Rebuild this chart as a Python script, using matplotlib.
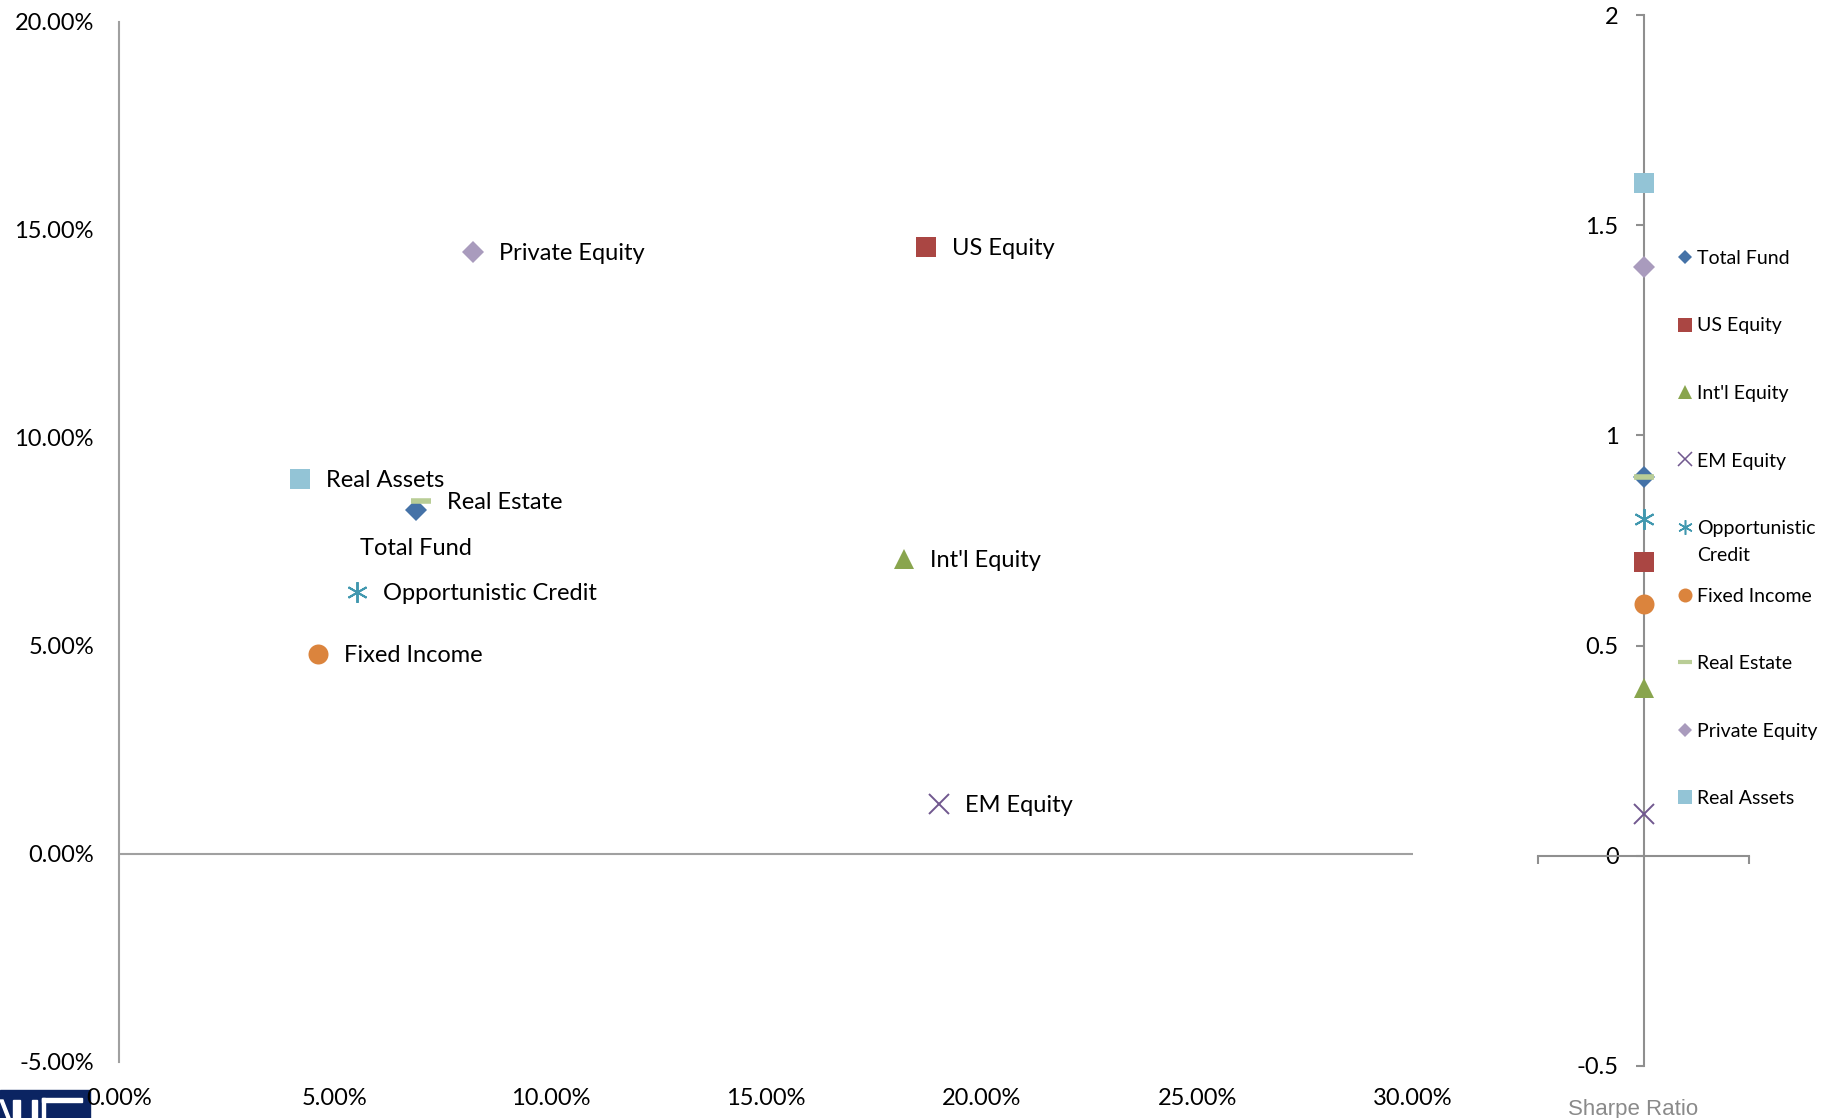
import matplotlib
matplotlib.use('Agg')
import matplotlib.pyplot as plt
from matplotlib.lines import Line2D
from matplotlib.patches import Rectangle, Polygon

plt.rcParams['font.family'] = ['Lato', 'DejaVu Sans']

W, H = 1822, 1118

# asset classes: annualised std dev (x), return (y), sharpe ratio
names = ['Total Fund', 'US Equity', "Int'l Equity", 'EM Equity', 'Opportunistic Credit',
         'Fixed Income', 'Real Estate', 'Private Equity', 'Real Assets']
legend_names = ['Total Fund', 'US Equity', "Int'l Equity", 'EM Equity', 'Opportunistic\nCredit',
                'Fixed Income', 'Real Estate', 'Private Equity', 'Real Assets']
risk = [6.89, 18.72, 18.21, 19.01, 5.52, 4.61, 7.00, 8.21, 4.20]
ret = [8.28, 14.59, 7.08, 1.20, 6.30, 4.80, 8.48, 14.48, 9.01]
sharpe = [0.9, 0.7, 0.4, 0.1, 0.8, 0.6, 0.9, 1.4, 1.6]

x_ticks = [0, 5, 10, 15, 20, 25, 30]
y_ticks = [-5, 0, 5, 10, 15, 20]
sr_ticks = [-0.5, 0, 0.5, 1, 1.5, 2]
sr_labels = ['-0.5', '0', '0.5', '1', '1.5', '2']

colors = ['#4572A7', '#AA4643', '#89A54E', '#71588F', '#4198AF',
          '#DB843D', '#B9CD96', '#A99BBD', '#93C4D6']
markers = ['D', 's', '^', 'x', (6, 2, 0), 'o', '_', 'D', 's']
sizes = [10.7, 14.5, 15, 14, 15, 14.4, 15, 10.7, 14.5]
mews = [0, 0, 0, 1.4, 1.4, 0, 4, 0, 0]

GRAY = '#a0a0a0'
GRAY2 = '#8f8f8f'
FS = 17


def fx(px):
    return px / W


def fy(py):
    return 1 - py / H


fig = plt.figure(figsize=(W / 100, H / 100), dpi=100)

# risk / return scatter
ax = fig.add_axes([fx(119), fy(1062), fx(1413) - fx(119), fy(22) - fy(1062)])
ax.set_facecolor('none')
ax.set_xlim(0, 30)
ax.set_ylim(-5, 20)
for s in ['top', 'right', 'bottom']:
    ax.spines[s].set_visible(False)
ax.spines['left'].set_color(GRAY)
ax.spines['left'].set_linewidth(1.5)
ax.axhline(0, color=GRAY, lw=1.5, zorder=1)
ax.set_xticks(x_ticks)
ax.set_xticklabels(['%.2f%%' % v for v in x_ticks])
ax.set_yticks(y_ticks)
ax.set_yticklabels(['%.2f%%' % v for v in y_ticks])
ax.tick_params(axis='x', length=0, pad=18.5, labelsize=FS)
ax.tick_params(axis='y', length=0, pad=18, labelsize=FS)

for i, name in enumerate(names):
    ax.plot(risk[i], ret[i], linestyle='none', marker=markers[i], ms=sizes[i],
            color=colors[i], mec=colors[i], mew=mews[i], zorder=3 + i)
    if name == 'Total Fund':
        ax.annotate(name, (risk[i], ret[i]), xytext=(0, -39), textcoords='offset pixels',
                    ha='center', va='center', fontsize=FS)
    else:
        ax.annotate(name, (risk[i], ret[i]), xytext=(26, -1.5), textcoords='offset pixels',
                    ha='left', va='center', fontsize=FS)

# sharpe ratio strip
ax2 = fig.add_axes([fx(1538), fy(1066), fx(1749) - fx(1538), fy(15) - fy(1066)])
ax2.set_facecolor('none')
ax2.set_xlim(0, 2)
ax2.set_ylim(-0.5, 2)
ax2.spines['top'].set_visible(False)
ax2.spines['right'].set_visible(False)
ax2.spines['left'].set_position(('data', 1))
ax2.spines['bottom'].set_position(('data', 0))
for s in ['left', 'bottom']:
    ax2.spines[s].set_color(GRAY2)
    ax2.spines[s].set_linewidth(1.5)
ax2.set_yticks(sr_ticks)
ax2.set_yticklabels(sr_labels)
ax2.set_xticks([0, 2])
ax2.set_xticklabels(['', ''])
ax2.tick_params(axis='y', length=6, width=1.5, color=GRAY2, pad=12, labelsize=FS)
ax2.tick_params(axis='x', length=6, width=1.5, color=GRAY2)

for i in range(len(names)):
    ax2.plot(1, sharpe[i], linestyle='none', marker=markers[i], ms=sizes[i],
             color=colors[i], mec=colors[i], mew=mews[i], zorder=3 + i, clip_on=False)

fig.text(fx(1633), fy(1109), 'Sharpe Ratio', family='Liberation Sans', fontsize=16,
         color='#8a8a8a', ha='center', va='center')

# legend drawn by hand
leg_top = 257
leg_step = 67.5
for i, label in enumerate(legend_names):
    y = leg_top + i * leg_step
    fig.add_artist(Line2D([fx(1685)], [fy(y)], transform=fig.transFigure, linestyle='none',
                          marker=markers[i], ms=sizes[i] * 0.7, color=colors[i],
                          mec=colors[i], mew=mews[i] * 0.8 if mews[i] < 3 else 3))
    fig.text(fx(1697), fy(y - 7), label, fontsize=14, ha='left', va='top', linespacing=1.7)

# corner logo
navy = '#0b2462'
fig.patches.append(Rectangle((fx(0), fy(1118)), fx(90), fy(1090) - fy(1118),
                             transform=fig.transFigure, color=navy, zorder=-1))
for x0, y0, x1, y1 in [(13, 1100, 20, 1118), (32, 1100, 37, 1118),
                       (42, 1098, 82, 1102), (42, 1098, 45, 1118)]:
    fig.patches.append(Rectangle((fx(x0), fy(y1)), fx(x1 - x0), fy(y0) - fy(y1),
                                 transform=fig.transFigure, color='white', zorder=-1))
fig.patches.append(Polygon([(fx(0), fy(1100)), (fx(3), fy(1100)), (fx(10), fy(1118)), (fx(7), fy(1118))],
                           closed=True, transform=fig.transFigure, color='white', zorder=-1))

fig.savefig('out.png', dpi=100)
